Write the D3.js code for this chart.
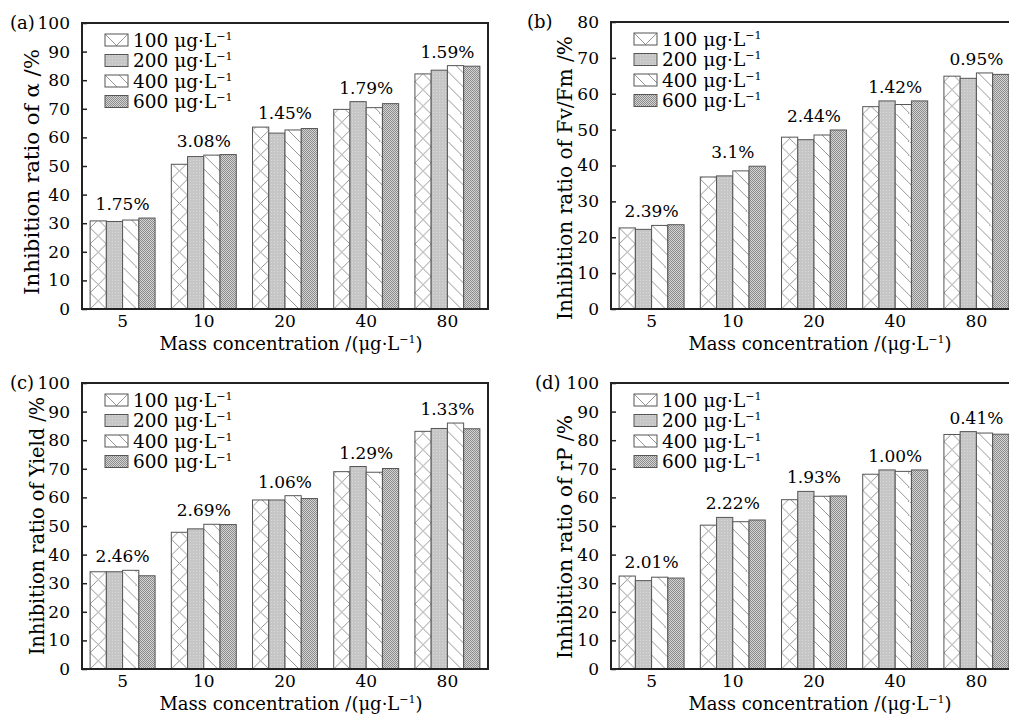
<!DOCTYPE html>
<html>
<head>
<meta charset="utf-8">
<script src="https://cdn.jsdelivr.net/npm/d3@7"></script>
<style>
  body { margin: 0; background: #fff; }
</style>
</head>
<body>
<svg id="chart" width="1009" height="717"></svg>
<script>
// categories and series
var categories = ["5", "10", "20", "40", "80"];
var seriesNames = ["100", "200", "400", "600"];

// values per category, one per series (100, 200, 400, 600 ug/L)
var alphaValues = [[30.8, 30.6, 31.1, 31.8], [50.6, 53.3, 53.8, 54.0], [63.6, 61.5, 62.6, 63.1], [69.8, 72.5, 70.4, 71.8], [82.2, 83.5, 85.1, 84.9]];
var alphaLabels = ["1.75%", "3.08%", "1.45%", "1.79%", "1.59%"];

var fvfmValues = [[22.6, 22.2, 23.3, 23.5], [36.8, 37.1, 38.5, 39.8], [47.9, 47.2, 48.5, 49.9], [56.4, 58.0, 57.0, 58.0], [64.9, 64.3, 65.8, 65.4]];
var fvfmLabels = ["2.39%", "3.1%", "2.44%", "1.42%", "0.95%"];

var yieldValues = [[34.0, 34.0, 34.5, 32.6], [47.8, 49.0, 50.6, 50.5], [59.1, 59.1, 60.6, 59.6], [69.0, 70.8, 68.8, 70.1], [83.1, 84.1, 86.0, 84.0]];
var yieldLabels = ["2.46%", "2.69%", "1.06%", "1.29%", "1.33%"];

var rpValues = [[32.5, 30.9, 32.1, 31.8], [50.3, 53.0, 51.5, 52.1], [59.2, 62.1, 60.4, 60.5], [68.1, 69.6, 69.1, 69.6], [82.0, 83.0, 82.5, 82.1]];
var rpLabels = ["2.01%", "2.22%", "1.93%", "1.00%", "0.41%"];

var panels = [
  {id: "a", letter: "(a)", yTitle: "Inhibition ratio of α /%", yMax: 100, values: alphaValues, labels: alphaLabels,
   left: 82, top: 23, bottom: 309, letterX: 10, titleX: 32, titleY: 172, titleLen: 246},
  {id: "b", letter: "(b)", yTitle: "Inhibition ratio of Fv/Fm /%", yMax: 80, values: fvfmValues, labels: fvfmLabels,
   left: 611, top: 22, bottom: 309, letterX: 527, titleX: 565, titleY: 178, titleLen: 284},
  {id: "c", letter: "(c)", yTitle: "Inhibition ratio of Yield /%", yMax: 100, values: yieldValues, labels: yieldLabels,
   left: 82, top: 383, bottom: 669, letterX: 10, titleX: 37, titleY: 526, titleLen: 258},
  {id: "d", letter: "(d)", yTitle: "Inhibition ratio of rP /%", yMax: 100, values: rpValues, labels: rpLabels,
   left: 611, top: 383, bottom: 669, letterX: 535, titleX: 565, titleY: 537, titleLen: 244}
];

var plotWidth = 406;
var fontSize = 17;
var serif = "DejaVu Serif";
var hatchColor = "#8a8a8a";
var barStroke = "#555";

var svg = d3.select("#chart").attr("font-family", serif);
var defs = svg.append("defs");

// solid-ish dotted fills
var p200 = defs.append("pattern").attr("id", "fill200")
  .attr("patternUnits", "userSpaceOnUse").attr("width", 3).attr("height", 3);
p200.append("rect").attr("width", 3).attr("height", 3).attr("fill", "#c6c6c6");
p200.append("rect").attr("x", 1).attr("y", 1).attr("width", 1).attr("height", 1).attr("fill", "#d8d8d8");

var p600 = defs.append("pattern").attr("id", "fill600")
  .attr("patternUnits", "userSpaceOnUse").attr("width", 2).attr("height", 2);
p600.append("rect").attr("width", 2).attr("height", 2).attr("fill", "#d4d4d4");
p600.append("rect").attr("width", 1).attr("height", 1).attr("fill", "#8c8c8c");
p600.append("rect").attr("x", 1).attr("y", 1).attr("width", 1).attr("height", 1).attr("fill", "#8c8c8c");

var patternCount = 0;
// hatch pattern anchored on a mark so the lines line up with its edges
function hatch(kind, x, y, w) {
  var id = "hatch" + (patternCount++);
  var s = kind == "cross" ? w : 14;
  var p = defs.append("pattern").attr("id", id)
    .attr("patternUnits", "userSpaceOnUse")
    .attr("x", x).attr("y", y).attr("width", s).attr("height", s);
  p.append("rect").attr("width", s).attr("height", s).attr("fill", "#fff");
  var d = kind == "cross"
    ? "M0,0L" + s + "," + s + "M" + s + ",0L0," + s
    : "M0,0L" + s + "," + s + "M" + (-s) + ",0L" + s + "," + (2 * s);
  p.append("path").attr("d", d).attr("stroke", hatchColor).attr("stroke-width", 0.9).attr("fill", "none");
  return "url(#" + id + ")";
}

function fillFor(j, x, y, w) {
  if (j == 0) return hatch("cross", x, y, w);
  if (j == 1) return "url(#fill200)";
  if (j == 2) return hatch("diag", x, y, w);
  return "url(#fill600)";
}

// "μg·L" with a raised −1
function unitText(sel, before, after) {
  sel.append("tspan").text(before + "μg·L");
  sel.append("tspan").attr("dy", -7).attr("font-size", 11).text("−1");
  if (after) sel.append("tspan").attr("dy", 7).text(after);
}

panels.forEach(function(pn) {
  var g = svg.append("g").attr("fill", "#000");
  var x0 = d3.scaleBand().domain(categories)
    .range([pn.left, pn.left + plotWidth]).paddingInner(0.2).paddingOuter(0.1);
  var x1 = d3.scaleBand().domain(d3.range(seriesNames.length)).range([0, x0.bandwidth()]);
  var y = d3.scaleLinear().domain([0, pn.yMax]).range([pn.bottom, pn.top]);

  // bars
  categories.forEach(function(cat, i) {
    pn.values[i].forEach(function(v, j) {
      var bx = x0(cat) + x1(j);
      g.append("rect")
        .attr("x", bx).attr("y", y(v))
        .attr("width", x1.bandwidth()).attr("height", y(0) - y(v))
        .attr("fill", fillFor(j, bx, pn.bottom, x1.bandwidth()))
        .attr("stroke", barStroke).attr("stroke-width", 1);
    });
    g.append("text")
      .attr("x", x0(cat) + x0.bandwidth() / 2)
      .attr("y", y(d3.max(pn.values[i])) - 8)
      .attr("text-anchor", "middle")
      .attr("font-size", fontSize)
      .text(pn.labels[i]);
  });

  // y axis with inward ticks
  var yAxis = g.append("g").attr("transform", "translate(" + pn.left + ",0)")
    .call(d3.axisLeft(y).tickValues(d3.range(0, pn.yMax + 1, 10)).tickSizeInner(-5).tickSizeOuter(0).tickPadding(12));
  yAxis.attr("font-family", serif).attr("font-size", fontSize);
  yAxis.select(".domain").remove();
  yAxis.selectAll("line").attr("stroke", "#222").attr("stroke-width", 1.5);
  yAxis.selectAll("text").attr("fill", "#000");

  // x axis labels only
  var xAxis = g.append("g").attr("transform", "translate(0," + pn.bottom + ")")
    .call(d3.axisBottom(x0).tickSize(0).tickPadding(6));
  xAxis.attr("font-family", serif).attr("font-size", fontSize);
  xAxis.select(".domain").remove();
  xAxis.selectAll("text").attr("fill", "#000");

  // frame
  g.append("rect")
    .attr("x", pn.left).attr("y", pn.top)
    .attr("width", plotWidth).attr("height", pn.bottom - pn.top)
    .attr("fill", "none").attr("stroke", "#222").attr("stroke-width", 2);

  // legend
  seriesNames.forEach(function(name, j) {
    var ly = pn.top + 17 + j * 20.5;
    var sx = pn.left + 23;
    g.append("rect")
      .attr("x", sx).attr("y", ly - 6)
      .attr("width", 23).attr("height", 12)
      .attr("fill", fillFor(j, sx, ly - 6, 23))
      .attr("stroke", barStroke).attr("stroke-width", 1);
    unitText(g.append("text")
      .attr("x", pn.left + 51).attr("y", ly + 6.5)
      .attr("font-size", 18.5), name + " ", null);
  });

  // titles
  g.append("text")
    .attr("transform", "translate(" + pn.titleX + "," + pn.titleY + ") rotate(-90)")
    .attr("text-anchor", "middle").attr("dominant-baseline", "central")
    .attr("font-size", 20)
    .attr("textLength", pn.titleLen).attr("lengthAdjust", "spacingAndGlyphs")
    .text(pn.yTitle);

  unitText(g.append("text")
    .attr("x", pn.left + plotWidth / 2 + 6).attr("y", pn.bottom + 41)
    .attr("text-anchor", "middle")
    .attr("font-size", 18), "Mass concentration /(", ")");

  g.append("text")
    .attr("x", pn.letterX).attr("y", pn.top + 6)
    .attr("font-size", 18)
    .text(pn.letter);
});
</script>
</body>
</html>
